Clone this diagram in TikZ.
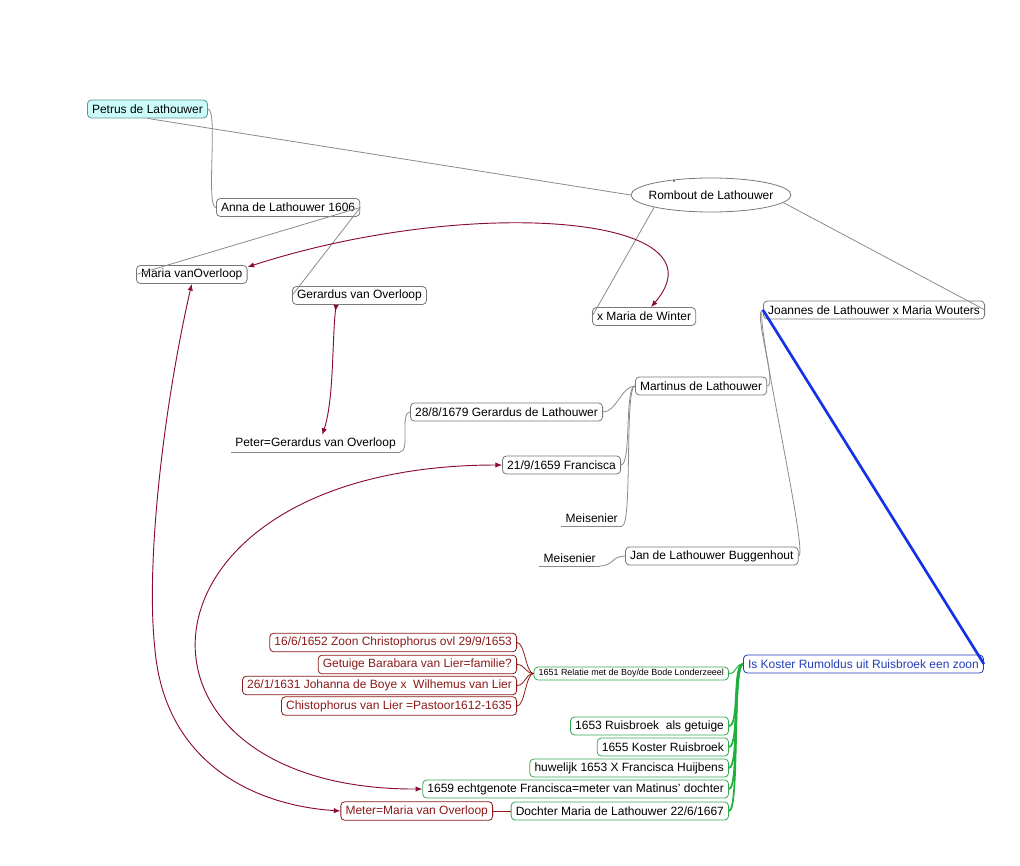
\documentclass[tikz,border=0pt]{standalone}
\usepackage{fontspec}
\setmainfont{Liberation Sans}
\usetikzlibrary{shapes.geometric,arrows.meta}

\definecolor{linegray}{RGB}{138,138,138}
\definecolor{boxgray}{RGB}{120,120,120}
\definecolor{petrusfill}{RGB}{204,252,250}
\definecolor{petrusdraw}{RGB}{90,150,150}
\definecolor{relred}{RGB}{139,10,60}
\definecolor{redbox}{RGB}{140,25,25}
\definecolor{greenbox}{RGB}{50,170,80}
\definecolor{greenline}{RGB}{30,175,60}
\definecolor{bluebox}{RGB}{35,60,185}
\definecolor{blueline}{RGB}{20,50,230}

\tikzset{
  topic/.style={draw=boxgray, line width=0.6pt, rounded corners=3pt,
    font=\fontsize{9}{10}\selectfont, minimum height=13.5pt,
    inner xsep=3.5pt, inner ysep=1pt},
  redtopic/.style={topic, draw=redbox, text=redbox, minimum height=14pt},
  greentopic/.style={topic, draw=greenbox},
  bluetopic/.style={topic, draw=bluebox, text=bluebox},
  plaintopic/.style={font=\fontsize{9}{10}\selectfont, inner xsep=3pt, inner ysep=2pt},
  branch/.style={draw=linegray, line width=0.6pt},
  curvy/.style={out=180, in=0, distance=6pt},
  relation/.style={draw=relred, line width=0.7pt,
    {Latex[length=5pt,width=4pt]}-{Latex[length=5pt,width=4pt]}}
}

\begin{document}
\begin{tikzpicture}[x=0.75pt, y=-0.75pt]
\useasboundingbox (0,0) rectangle (1020,866);

% central topic and first level
\node[ellipse, draw=boxgray, line width=0.6pt, minimum width=120pt, minimum height=25.5pt,
  font=\fontsize{9}{10}\selectfont, inner xsep=-6.5pt, inner ysep=0pt] (rombout) at (711,195) {Rombout de Lathouwer};
\fill (674,181) circle (0.6pt);
\node[topic, fill=petrusfill, draw=petrusdraw, anchor=west] (petrus) at (87,109) {Petrus de Lathouwer};
\node[topic, anchor=west] (anna) at (216,207.5) {Anna de Lathouwer 1606};
\node[topic, anchor=west] (mariaO) at (136,274.5) {Maria vanOverloop};
\node[topic, anchor=west] (gerardusO) at (292,295.5) {Gerardus van Overloop};
\node[topic, anchor=west] (winter) at (592,316.5) {x Maria de Winter};
\node[topic, anchor=west] (joannes) at (763,310) {Joannes de Lathouwer x Maria Wouters};

% left branch of Joannes
\node[topic, anchor=west] (martinus) at (635,386) {Martinus de Lathouwer};
\node[topic, anchor=east] (gerardusL) at (603,412) {28/8/1679 Gerardus de Lathouwer};
\node[plaintopic, anchor=south east] (peter) at (400,452) {Peter=Gerardus van Overloop};
\node[topic, anchor=east] (francisca) at (621,465) {21/9/1659 Francisca};
\node[plaintopic, anchor=south east] (meis1) at (622,526) {Meisenier};
\node[topic, anchor=west] (jan) at (625,556) {Jan de Lathouwer Buggenhout};
\node[plaintopic, anchor=south east] (meis2) at (600,566) {Meisenier};
\draw[branch] (peter.south west) -- (peter.south east);
\draw[branch] (meis1.south west) -- (meis1.south east);
\draw[branch] (meis2.south west) -- (meis2.south east);

% Koster and its children
\node[bluetopic, anchor=west] (koster) at (743,664) {Is Koster Rumoldus uit Ruisbroek een zoon};
\node[topic, draw=greenbox, anchor=east, font=\fontsize{6.7}{7.5}\selectfont, minimum height=9.75pt,
  inner ysep=0.5pt] (relatie) at (729,673.5) {1651 Relatie met de Boy/de Bode Londerzeeel};
\node[greentopic, anchor=east] (getuigeR) at (729,726) {1653 Ruisbroek\ \ als getuige};
\node[greentopic, anchor=east] (kosterR) at (729,747) {1655 Koster Ruisbroek};
\node[greentopic, anchor=east] (huwelijk) at (729,768) {huwelijk 1653 X Francisca Huijbens};
\node[greentopic, anchor=east] (echt) at (729,789) {1659 echtgenote Francisca=meter van Matinus' dochter};
\node[greentopic, anchor=east] (dochter) at (729,811) {Dochter Maria de Lathouwer 22/6/1667};
\node[redtopic, anchor=east] (meter) at (493,811) {Meter=Maria van Overloop};

% children of the 1651 topic
\node[redtopic, anchor=east] (zoon) at (517,642.5) {16/6/1652 Zoon Christophorus ovl 29/9/1653};
\node[redtopic, anchor=east] (getuige) at (517,664.5) {Getuige Barabara van Lier=familie?};
\node[redtopic, anchor=east] (johanna) at (517,685.5) {26/1/1631 Johanna de Boye x\ \ Wilhemus van Lier};
\node[redtopic, anchor=east] (pastoor) at (517,706) {Chistophorus van Lier =Pastoor1612-1635};

% branches
\draw[branch] (petrus.south) -- (rombout.west);
\draw[branch] (petrus.east) to[out=0, in=180, distance=8pt] (anna.west);
\draw[branch] (anna.east) -- (mariaO.west);
\draw[branch] (anna.east) -- (gerardusO.west);
\draw[branch] (rombout.south west) -- (winter.west);
\draw[branch] (rombout.-6) -- (joannes.east);
\draw[branch] (joannes.west) to[curvy, distance=8pt] (martinus.east);
\draw[branch] (joannes.west) to[curvy, distance=8pt] (jan.east);
\draw[branch] (martinus.west) to[curvy, distance=10pt] (gerardusL.east);
\draw[branch] (martinus.west) to[curvy, distance=8pt] (francisca.east);
\draw[branch] (martinus.west) to[curvy, distance=8pt] (meis1.south east);
\draw[branch] (gerardusL.west) to[curvy, distance=8pt] (peter.south east);
\draw[branch] (jan.west) to[curvy, distance=10pt] (meis2.south east);
\draw[blueline, line width=2pt] (joannes.west) -- (koster.east);
\draw[greenline, line width=0.7pt] (koster.west) to[curvy] (relatie.east);
\foreach \kid in {getuigeR,kosterR,huwelijk,echt,dochter}
  \draw[greenline, line width=1.3pt] (koster.west) to[curvy, distance=8pt] (\kid.east);
\foreach \kid in {zoon,getuige,johanna,pastoor}
  \draw[redbox, line width=0.6pt] (relatie.west) to[curvy, distance=6pt] (\kid.east);
\draw[redbox, line width=0.6pt] (dochter.west) -- (meter.east);

% relationships
\draw[relation] (mariaO.east |- 0,267) .. controls (470,195) and (730,215) .. (winter.north -| 651,0);
\draw[draw=relred, line width=0.7pt, {Latex[length=5pt,width=4pt,reversed]}-{Latex[length=5pt,width=4pt]}]
  ([xshift=-17.5pt]gerardusO.south) .. controls (332,340) and (334,400) .. ([xshift=5pt]peter.north);
\draw[relation] (echt.west) .. controls (100,790) and (120,465) .. (francisca.west);
\draw[relation] (mariaO.south) .. controls (165,400) and (145,560) .. (155,650)
  .. controls (165,760) and (250,805) .. (meter.west);
\end{tikzpicture}
\end{document}
